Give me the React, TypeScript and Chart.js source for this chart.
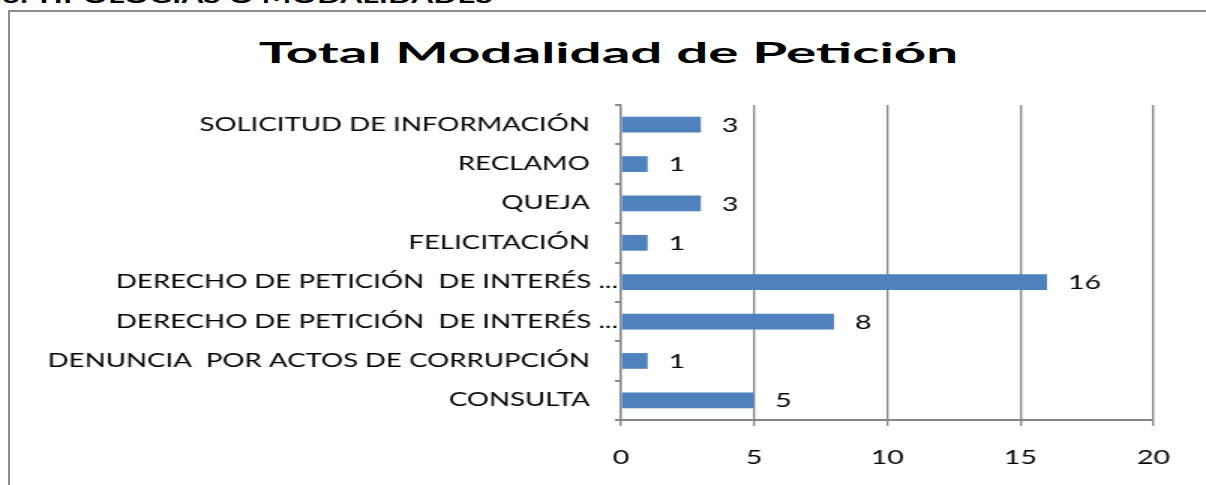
import React, { useEffect, useRef } from "react";
import { Chart, registerables } from "chart.js";

Chart.register(...registerables);

// ---- data ----
const headerText = "3. TIPOLOGÍAS O MODALIDADES";
const chartTitle = "Total Modalidad de Petición";
const categories = [
  "SOLICITUD DE INFORMACIÓN",
  "RECLAMO",
  "QUEJA",
  "FELICITACIÓN",
  "DERECHO DE PETICIÓN  DE INTERÉS ...",
  "DERECHO DE PETICIÓN  DE INTERÉS ...",
  "DENUNCIA  POR ACTOS DE CORRUPCIÓN",
  "CONSULTA",
];
const values = [3, 1, 3, 1, 16, 8, 1, 5];
const xTicks = [0, 5, 10, 15, 20];

// ---- styling ----
const STRETCH = 1.5; // horizontal stretch of the reference picture
const PAGE_W = 1206;
const PAGE_H = 485;
const CANVAS_W = Math.round(PAGE_W / STRETCH);
const FONT = "Lato";
const GRID = "#868686";
const BAR = "#4F81BD";

const valueLabels = {
  id: "valueLabels",
  afterDatasetsDraw(chart: any) {
    const ctx = chart.ctx;
    const meta = chart.getDatasetMeta(0);
    ctx.save();
    ctx.font = `19px ${FONT}`;
    ctx.fillStyle = "#000";
    ctx.textBaseline = "middle";
    ctx.textAlign = "left";
    meta.data.forEach((bar: any, i: number) => {
      ctx.fillText(String(values[i]), bar.x + 14, bar.y + 1);
    });
    ctx.restore();
  },
};

export default function App() {
  const ref = useRef<HTMLCanvasElement | null>(null);

  useEffect(() => {
    let chart: Chart | null = null;
    let cancelled = false;
    const make = () => {
      if (cancelled || !ref.current) return;
      chart = new Chart(ref.current, {
        type: "bar",
        data: {
          labels: categories,
          datasets: [
            {
              data: values,
              backgroundColor: BAR,
              borderWidth: 0,
              barPercentage: 0.4,
              categoryPercentage: 1,
            },
          ],
        },
        plugins: [valueLabels],
        options: {
          indexAxis: "y",
          responsive: false,
          devicePixelRatio: 1,
          animation: false,
          layout: { padding: { top: 105, right: 35, left: 0, bottom: 0 } },
          plugins: {
            legend: { display: false },
            title: { display: false },
            tooltip: { enabled: false },
          },
          scales: {
            x: {
              min: xTicks[0],
              max: xTicks[xTicks.length - 1],
              afterBuildTicks(scale: any) {
                scale.ticks = xTicks.map((v) => ({ value: v }));
              },
              afterFit(scale: any) {
                scale.height = 65;
              },
              grid: {
                color: GRID,
                lineWidth: 1.35,
                tickLength: 6,
                drawTicks: true,
              },
              border: { display: true, color: GRID, width: 2 },
              ticks: {
                color: "#000",
                font: { family: FONT, size: 19 },
                padding: 20,
                maxRotation: 0,
              },
            },
            y: {
              afterFit(scale: any) {
                scale.width = 414;
              },
              grid: {
                display: true,
                drawOnChartArea: false,
                drawTicks: true,
                offset: true,
                tickLength: 4,
                color: GRID,
                lineWidth: 2,
              },
              border: { display: true, color: GRID, width: 1.35 },
              ticks: {
                color: "#000",
                font: { family: FONT, size: 18.4 },
                padding: -2,
                autoSkip: false,
                callback(this: any, _v: any, i: number) {
                  const l = categories[i];
                  return l.endsWith("...") ? l : l + "    ";
                },
              },
            },
          },
        },
      });
    };
    if ((document as any).fonts && (document as any).fonts.load) {
      Promise.all([
        (document as any).fonts.load(`19px ${FONT}`),
        (document as any).fonts.load(`bold 29px ${FONT}`),
      ])
        .catch(() => null)
        .then(make);
    } else {
      make();
    }
    return () => {
      cancelled = true;
      if (chart) chart.destroy();
    };
  }, []);

  return (
    <div
      style={{
        position: "fixed",
        left: 0,
        top: 0,
        width: PAGE_W,
        height: PAGE_H,
        overflow: "hidden",
        background: "#fff",
      }}
    >
      <div
        style={{
          position: "absolute",
          left: 2,
          top: -15,
          font: `bold 20px/20px ${FONT}`,
          color: "#000",
          whiteSpace: "nowrap",
          transform: "scaleX(1.58)",
          transformOrigin: "left center",
        }}
      >
        {headerText}
      </div>
      <div
        style={{
          position: "absolute",
          left: 8,
          top: 10,
          width: PAGE_W - 8,
          height: PAGE_H - 10,
          borderTop: "2px solid #8c8c8c",
          borderLeft: "2px solid #8c8c8c",
          boxSizing: "border-box",
        }}
      />
      <div
        style={{
          position: "absolute",
          left: 0,
          top: 37,
          width: 1217,
          textAlign: "center",
          font: `bold 29px/29px ${FONT}`,
          color: "#000",
          whiteSpace: "nowrap",
          transform: "scaleX(1.95)",
          transformOrigin: "608.5px center",
        }}
      >
        {chartTitle}
      </div>
      <canvas
        ref={ref}
        width={CANVAS_W}
        height={PAGE_H}
        style={{
          position: "absolute",
          left: 0,
          top: 0,
          width: PAGE_W,
          height: PAGE_H,
        }}
      />
    </div>
  );
}
